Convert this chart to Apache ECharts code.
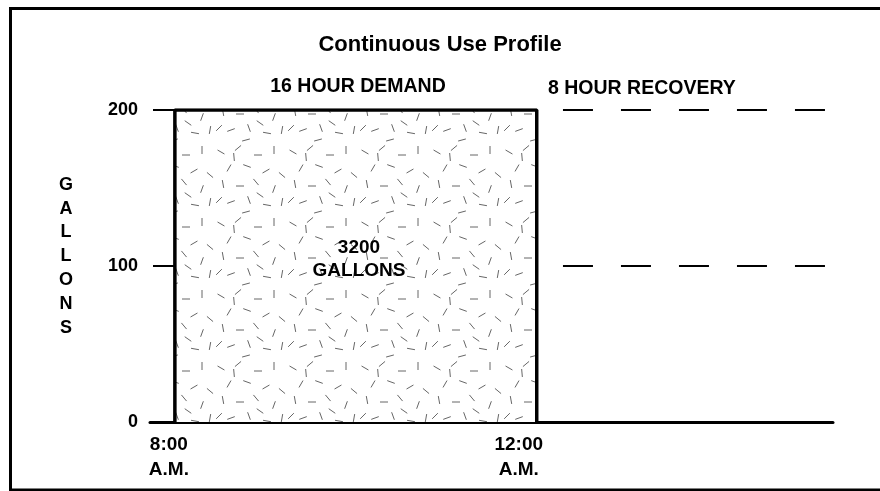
<!DOCTYPE html>
<html>
<head>
<meta charset="utf-8">
<script src="https://cdn.jsdelivr.net/npm/echarts@6/dist/echarts.min.js"></script>
<style>
  html, body { margin: 0; padding: 0; background: #fff; }
  #chart { width: 880px; height: 491px; }
</style>
</head>
<body>
<div id="chart"></div>
<script>
// data
const demandHours = [8, 24]              // 8:00 A.M. -> 12:00 A.M.
const demandGallons = 200
const recoveryRange = [25.16, 36.83]     // dashed reference lines on the right
const recoveryLevels = [200, 100]
const yTicks = [0, 100, 200]
const xTickLabels = { 8: ['8:00', 'A.M.'], 24: ['12:00', 'A.M.'] }

// speckle texture used to fill the demand block
const speckles = [
  [5, 8, 30], [22, 4, -40], [42, 11, 0], [58, 6, 90], [13, 24, -60],
  [31, 22, 20], [50, 27, -30], [7, 40, 80], [24, 42, 0], [40, 38, 50],
  [58, 45, -70], [15, 58, -20], [33, 56, 70], [51, 61, 10], [66, 31, 40],
  [3, 56, -45], [66, 58, -80], [44, 51, 35], [18, 13, 85], [30, 68, -15]
]

function makeTexture() {
  const c = document.createElement('canvas')
  c.width = 72
  c.height = 72
  const ctx = c.getContext('2d')
  ctx.fillStyle = '#fff'
  ctx.fillRect(0, 0, 72, 72)
  ctx.strokeStyle = '#666'
  ctx.lineWidth = 1
  speckles.forEach(([x, y, a]) => {
    const r = a * Math.PI / 180
    const dx = Math.cos(r) * 4
    const dy = Math.sin(r) * 4
    ctx.beginPath()
    ctx.moveTo(x - dx, y - dy)
    ctx.lineTo(x + dx, y + dy)
    ctx.stroke()
  })
  return c
}

const blockData = [
  [demandHours[0], 0],
  [demandHours[0], demandGallons],
  [demandHours[1], demandGallons],
  [demandHours[1], 0]
]

const font = 'Liberation Sans, Arial, sans-serif'

const chart = echarts.init(document.getElementById('chart'), null, { renderer: 'canvas' })

chart.setOption({
  animation: false,
  backgroundColor: '#fff',
  title: [
    {
      text: 'Continuous Use Profile',
      left: 440, top: 34, textAlign: 'center', padding: 0,
      textStyle: { fontFamily: font, fontWeight: 'bold', fontSize: 22, color: '#000' }
    },
    {
      text: '16 HOUR DEMAND',
      left: 358, top: 77, textAlign: 'center', padding: 0,
      textStyle: { fontFamily: font, fontWeight: 'bold', fontSize: 19.5, color: '#000' }
    },
    {
      text: '8 HOUR RECOVERY',
      left: 548, top: 79, padding: 0,
      textStyle: { fontFamily: font, fontWeight: 'bold', fontSize: 19.5, color: '#000' }
    },
    {
      text: '3200\nGALLONS',
      left: 359, top: 236, textAlign: 'center', padding: 0,
      textStyle: { fontFamily: font, fontWeight: 'bold', fontSize: 19, lineHeight: 23, color: '#000' }
    },
    {
      text: 'G\nA\nL\nL\nO\nN\nS',
      left: 66, top: 173, textAlign: 'center', padding: 0,
      textStyle: { fontFamily: font, fontWeight: 'bold', fontSize: 18, lineHeight: 23.8, color: '#000' }
    }
  ],
  graphic: [
    {
      type: 'rect',
      shape: { x: 10.5, y: 8.5, width: 900, height: 481.5 },
      style: { fill: 'none', stroke: '#000', lineWidth: 3 },
      silent: true
    }
  ],
  grid: { left: 150, top: 110, width: 683, height: 312, containLabel: false },
  xAxis: {
    type: 'value',
    min: 6.9,
    max: 37.1,
    splitLine: { show: false },
    axisTick: { show: false },
    axisLine: { show: true, lineStyle: { color: '#000', width: 3 } },
    axisLabel: {
      customValues: demandHours,
      margin: 10,
      formatter: v => {
        const lines = xTickLabels[v] || []
        const key = v === 8 ? 'a' : 'b'
        return lines.map(s => '{' + key + '|' + s + '}').join('\n')
      },
      rich: {
        a: { fontFamily: font, fontWeight: 'bold', fontSize: 19, lineHeight: 25, color: '#000', padding: [0, 12, 0, 0] },
        b: { fontFamily: font, fontWeight: 'bold', fontSize: 19, lineHeight: 25, color: '#000', padding: [0, 36, 0, 0] }
      }
    }
  },
  yAxis: {
    type: 'value',
    min: yTicks[0],
    max: yTicks[yTicks.length - 1],
    interval: 100,
    offset: -3,
    splitLine: { show: false },
    axisLine: { show: false },
    axisTick: { show: true, inside: true, length: 22, lineStyle: { color: '#000', width: 2 } },
    axisLabel: {
      margin: 15,
      fontFamily: font, fontWeight: 'bold', fontSize: 18, color: '#000'
    }
  },
  series: [
    {
      type: 'line',
      data: blockData,
      symbol: 'none',
      z: 3,
      lineStyle: { color: '#000', width: 3.5 },
      areaStyle: { color: { image: makeTexture(), repeat: 'repeat' }, opacity: 1, origin: 'start' }
    },
    ...recoveryLevels.map(level => ({
      type: 'line',
      data: recoveryRange.map(x => [x, level]),
      symbol: 'none',
      lineStyle: { color: '#000', width: 2, type: [30, 28] }
    }))
  ]
})
</script>
</body>
</html>
